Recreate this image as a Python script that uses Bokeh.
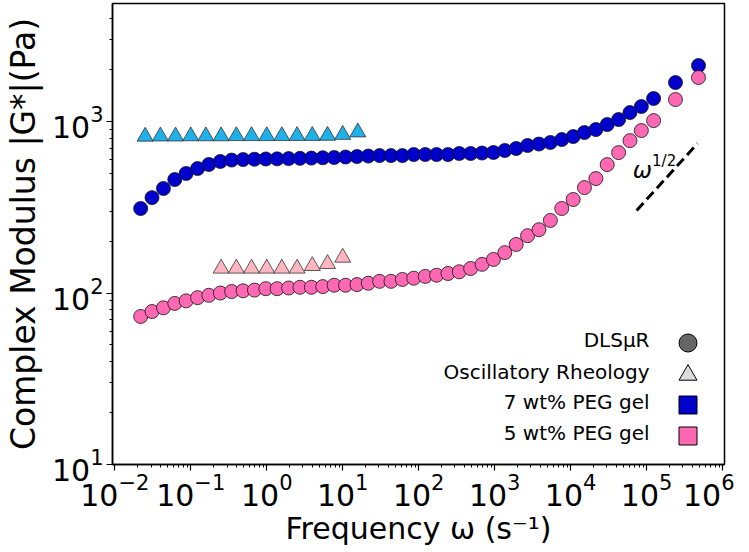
from bokeh.plotting import figure
from bokeh.models import (Range1d, FixedTicker, Legend, LegendItem, Label)
from bokeh.embed import file_html
from bokeh.resources import INLINE

# ---- data ----
freq_dls = [0.0219, 0.0309, 0.0437, 0.0616, 0.0869, 0.123, 0.173, 0.245, 0.345, 0.488,
            0.689, 0.972, 1.37, 1.94, 2.74, 3.87, 5.46, 7.71, 10.9, 15.4,
            21.7, 30.6, 43.2, 61.0, 86.1, 122, 172, 243, 342, 483,
            682, 964, 1360, 1920, 2710, 3830, 5410, 7640, 10800, 15200,
            21500, 30300, 42800, 60400, 85300, 123600, 240000, 482000]

g_dls_7 = [311, 360, 407, 459, 498, 532, 562, 585, 596, 600,
           603, 605, 606, 608, 610, 612, 615, 617, 621, 625,
           629, 633, 633, 633, 642, 642, 642, 642, 651, 651,
           655, 660, 678, 696, 725, 739, 755, 785, 817, 863,
           898, 960, 1027, 1128, 1223, 1362, 1688, 2121]

g_dls_5 = [73, 78, 82, 87, 90, 94, 97, 100, 102, 103,
           104, 106, 106, 107, 108, 108, 109, 111, 111, 112,
           114, 117, 117, 120, 122, 125, 127, 130, 133, 139,
           147, 157, 172, 192, 216, 234, 265, 311, 351, 412,
           465, 561, 659, 774, 886, 1013, 1344, 1806]

freq_osc_7 = [0.0251, 0.0398, 0.0631, 0.1, 0.158, 0.251, 0.398, 0.631, 1.0, 1.58,
              2.51, 3.98, 6.31, 10.0, 15.8]
g_osc_7 = [818, 820, 820, 822, 822, 822, 824, 824, 824, 824,
           826, 826, 828, 838, 866]

freq_osc_5 = [0.251, 0.398, 0.631, 1.0, 1.58, 2.51, 3.98, 6.31, 10.0]
g_osc_5 = [139, 139, 139, 139, 139, 139, 144, 148, 161]

slope_x = [74000, 468000]
slope_y = [303, 745]

x_ticks = [1e-2, 1e-1, 1e0, 1e1, 1e2, 1e3, 1e4, 1e5, 1e6]
y_ticks = [1e1, 1e2, 1e3]

legend_labels = ["DLSμR", "Oscillatory Rheology", "7 wt% PEG gel", "5 wt% PEG gel"]

# ---- colours ----
BLUE = "#0000CD"
PINK = "#FF69B4"
CYAN = "#1EB0E8"
LPINK = "#FFB6C1"
FONT = "DejaVu Sans"

x_minor = [m * 10.0 ** k for k in range(-3, 7) for m in range(2, 10)]
y_minor = [m * 10.0 ** k for k in range(0, 4) for m in range(2, 10)]

p = figure(width=734, height=552, x_axis_type="log", y_axis_type="log",
           x_range=Range1d(0.00933, 1.06e6), y_range=Range1d(10, 4880),
           output_backend="svg", toolbar_location=None,
           min_border_left=111, min_border_right=10, min_border_top=3,
           min_border_bottom=88)

p.grid.visible = False
p.outline_line_color = "black"
p.outline_line_width = 1.5
p.outline_line_alpha = 1.0
p.background_fill_color = "white"
p.border_fill_color = "white"

p.xaxis.ticker = FixedTicker(ticks=x_ticks, minor_ticks=x_minor)
p.yaxis.ticker = FixedTicker(ticks=y_ticks, minor_ticks=y_minor)

for ax in (p.xaxis, p.yaxis):
    ax.axis_line_width = 1.5
    ax.axis_line_color = "black"
    ax.major_tick_out = 6
    ax.major_tick_in = 0
    ax.minor_tick_out = 3
    ax.minor_tick_in = 0
    ax.major_tick_line_width = 1.2
    ax.minor_tick_line_width = 1
    ax.major_label_text_font = FONT
    ax.major_label_text_font_size = "30px"
    ax.major_label_text_color = "black"
    ax.axis_label_text_font = FONT
    ax.axis_label_text_font_style = "normal"
    ax.axis_label_text_color = "black"

p.xaxis.axis_label_text_font_size = "30px"
p.yaxis.axis_label_text_font_size = "33px"
p.xaxis.major_label_standoff = 2
p.yaxis.major_label_standoff = 3
p.xaxis.axis_label_standoff = 2
p.yaxis.axis_label_standoff = 6
p.xaxis.axis_label = "Frequency ω (s⁻¹)"
p.yaxis.axis_label = "Complex Modulus |G*|(Pa)"

# ---- data glyphs ----
p.scatter(freq_osc_7, g_osc_7, marker="triangle", size=16, fill_color=CYAN,
          line_color="#333333", line_width=0.8)
p.scatter(freq_osc_5, g_osc_5, marker="triangle", size=16, fill_color=LPINK,
          line_color="#333333", line_width=0.8)
p.scatter(freq_dls, g_dls_7, marker="circle", size=14, fill_color=BLUE,
          line_color="#111111", line_width=0.8)
p.scatter(freq_dls, g_dls_5, marker="circle", size=14, fill_color=PINK,
          line_color="#111111", line_width=0.8)

p.line(slope_x, slope_y, line_color="black", line_width=3, line_dash="10 5")

p.add_layout(Label(x=65500, y=525, text="ω", text_font=FONT, text_font_style="italic",
                   text_font_size="23px", text_baseline="alphabetic", text_color="black"))
p.add_layout(Label(x=118000, y=585, text="1/2", text_font=FONT,
                   text_font_size="15px", text_baseline="alphabetic", text_color="black"))

# ---- legend: one single-item legend per row (glyph on the right) ----
nan = float("nan")
leg_r = [
    p.scatter([nan], [nan], marker="circle", fill_color="#666666", line_color="black", line_width=1),
    p.scatter([nan], [nan], marker="triangle", fill_color="#DDDDDD", line_color="black", line_width=1),
    p.scatter([nan], [nan], marker="square", fill_color=BLUE, line_color="black", line_width=1),
    p.scatter([nan], [nan], marker="square", fill_color=PINK, line_color="black", line_width=1),
]
row_y = [121, 89, 59, 28]
for r, yy in zip(leg_r, row_y):
    lg = Legend(items=[LegendItem(label=" ", renderers=[r])],
                location=(553, yy - 22), glyph_width=45, glyph_height=45,
                padding=0, margin=0, label_standoff=0,
                label_text_font_size="4px", border_line_alpha=0,
                background_fill_alpha=0)
    p.add_layout(lg)

for txt, yy in zip(legend_labels, row_y):
    p.add_layout(Label(x=537, y=yy + 4, x_units="screen", y_units="screen", text=txt,
                       text_align="right", text_baseline="middle", text_font=FONT,
                       text_font_size="20px", text_color="black"))

open("out.html", "w").write(file_html(p, INLINE))
